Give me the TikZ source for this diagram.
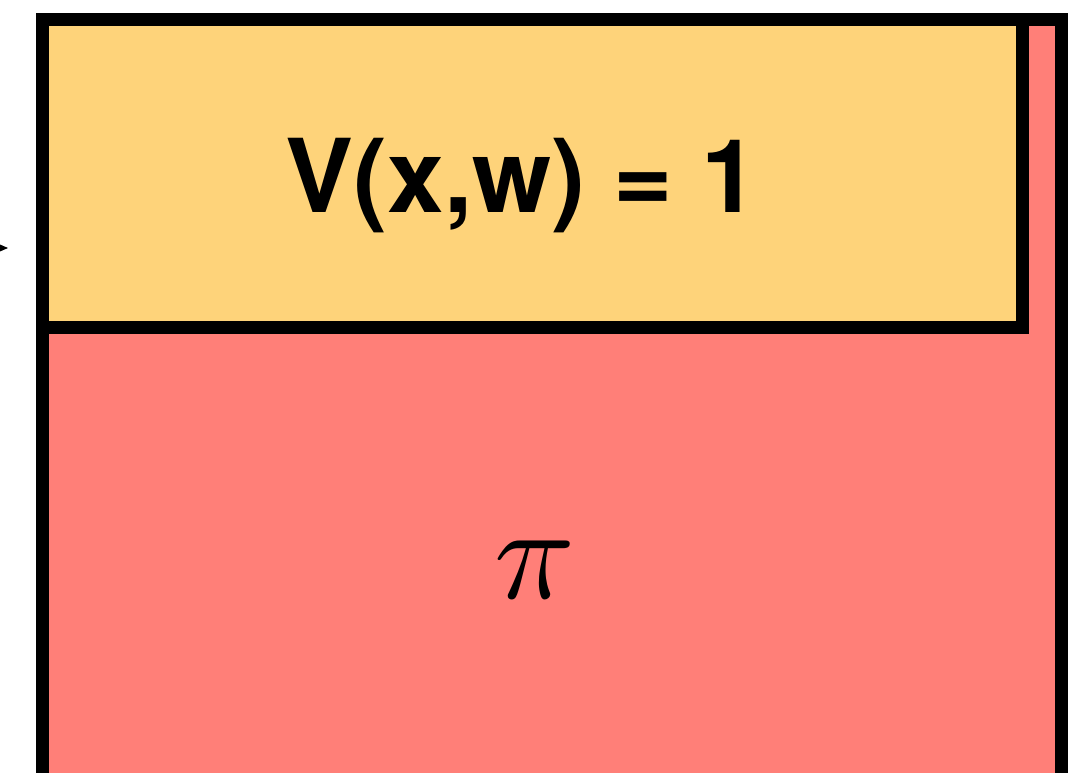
\documentclass[tikz,border=0pt]{standalone}
\usepackage{amsmath,amssymb}
\usepackage{graphicx}
\usepackage{fontspec}
\newfontfamily\herosfont{TeX Gyre Heros}
\usepackage{xcolor}
\usepackage{tikz}
\usetikzlibrary{arrows.meta,positioning}

\definecolor{witnessyellow}{RGB}{254,211,122}
\definecolor{proofred}{RGB}{255,127,120}

\begin{document}
\begin{tikzpicture}[
    x=0.02cm, y=-0.02cm,
    box/.style={draw=black, line width=0.26cm, inner sep=0pt, outer sep=0pt,
                anchor=north west},
    arr/.style={-{Stealth[length=3mm, width=2.6mm]}, thick}
]
    \useasboundingbox (0,0) rectangle (1071,773);

    % Proof block
    \node[box, fill=proofred, minimum width=20.39cm, minimum height=15.3cm]
        (proof) at (42.5,20) {};
    \node (pi) at (535,570) {\scalebox{7.6}{$\pi$}};

    % Verifier block
    \node[box, fill=witnessyellow, minimum width=19.6cm, minimum height=6.15cm]
        (verifier) at (42.5,20) {};
    \node[font=\herosfont\bfseries\fontsize{58}{58}\selectfont] (check)
        at (522,186) {V(x,w) = 1};

    % Incoming arrow
    \coordinate (in) at (-40,248);
    \coordinate (inend) at (8,248);
    \draw[arr] (in) -- (inend);
\end{tikzpicture}
\end{document}
